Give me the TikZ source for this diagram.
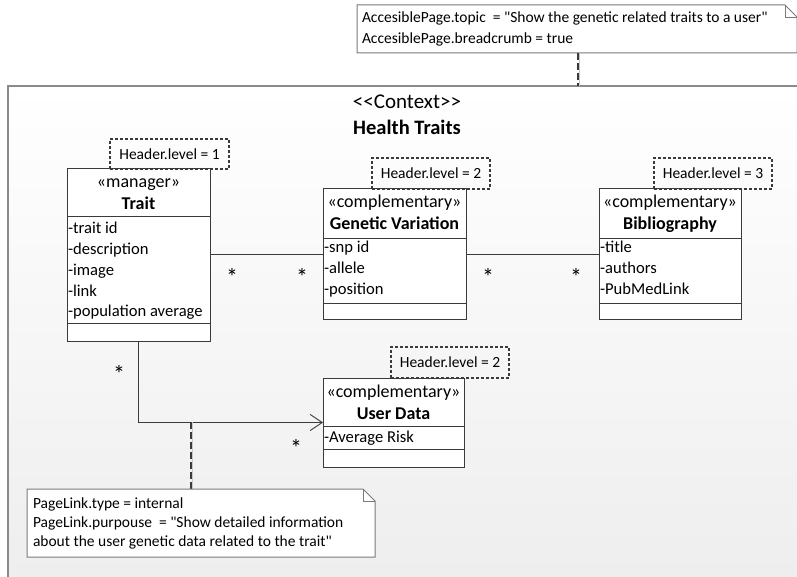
\documentclass[tikz,border=0pt]{standalone}
\usepackage{fontspec}
\setmainfont{Carlito}[Ligatures=TeXOff]
\usetikzlibrary{arrows.meta}
\definecolor{ink}{HTML}{3A3A3A}
\definecolor{framegray}{HTML}{8A8A8A}
\definecolor{notegray}{HTML}{7A7A7A}
\definecolor{tethershade}{HTML}{C8C8C8}
\definecolor{bgbottom}{HTML}{EDEDED}

\begin{document}
\begin{tikzpicture}[x=1pt,y=-1pt,
  every node/.style={font=\fontsize{15.5}{20}\selectfont, inner sep=0pt, outer sep=0pt},
  classbox/.style={draw=ink, fill=white, line width=1pt, anchor=north west},
  tagbox/.style={draw=ink, dash pattern=on 3pt off 2pt, line width=1.4pt, anchor=north west},
  rowline/.style={draw=ink, line width=0.8pt},
  txt/.style={anchor=base west},
  attr/.style={anchor=base west, font=\fontsize{16.6}{20}\selectfont},
  head/.style={anchor=base, font=\fontsize{18}{22}\selectfont},
  headbold/.style={anchor=base, font=\fontsize{18}{22}\selectfont\bfseries},
  ctxt/.style={anchor=base, font=\fontsize{21}{24}\selectfont},
  assoc/.style={draw=ink, line width=0.9pt},
  mult/.style={anchor=base, font=\fontsize{24}{24}\selectfont},
  notebox/.style={draw=notegray, fill=white, line width=1pt},
  tether/.style={draw=ink, line width=1.8pt, dash pattern=on 7pt off 3pt},
  tethershadow/.style={draw=tethershade, line width=1.6pt},
]
\useasboundingbox (0,0) rectangle (797,577);
\clip (0,0) rectangle (797,577);

% context frame
\node[anchor=north west, minimum width=820pt, minimum height=520pt,
      top color=white, bottom color=bgbottom] (ctx) at (8,86) {};
\draw[framegray, line width=1.6pt] (ctx.south west) -- (ctx.north west) -- (ctx.north east);
\node[ctxt] (ctxlabel) at (407,109) {<{}<Context>{}>};
\node[ctxt, font=\fontsize{20.5}{24}\selectfont\bfseries] (ctxname) at (407,135) {Health Traits};

% top note
\node[anchor=north west, minimum width=440pt, minimum height=48pt] (topnote) at (357,5) {};
\draw[notebox] (topnote.north west) -- ([xshift=-12pt]topnote.north east)
  -- ([yshift=-12pt]topnote.north east) -- (topnote.south east)
  -- (topnote.south west) -- cycle;
\draw[notegray, line width=0.8pt] ([xshift=-12pt]topnote.north east)
  -- ([xshift=-12pt,yshift=-12pt]topnote.north east) -- ([yshift=-12pt]topnote.north east);
\node[txt] (topnoteA) at (362,23) {AccesiblePage.topic \ = "Show the genetic related traits to a user"};
\node[txt] (topnoteB) at (362,44) {AccesiblePage.breadcrumb = true};
\coordinate (tnx) at (578,0);
\draw[tethershadow] ([xshift=1.5pt]topnote.south -| tnx) -- ([xshift=1.5pt]ctx.north -| tnx);
\draw[tether] (topnote.south -| tnx) -- (ctx.north -| tnx);

% Trait
\node[classbox, minimum width=143pt, minimum height=172pt] (trait) at (67,169) {};
\draw[rowline] (trait.west |- 0,216) -- (trait.east |- 0,216);
\draw[rowline] (trait.west |- 0,323) -- (trait.east |- 0,323);
\node[head] (traitst) at (trait.north |- 0,188) {«manager»};
\node[headbold] (traitnm) at (trait.north |- 0,210) {Trait};
\foreach \t [count=\i] in {-trait id,-description,-image,-link,-population average}
  \node[attr] (traitA\i) at (68,{234+20.7*(\i-1)}) {\t};
\node[tagbox, minimum width=119pt, minimum height=30pt] (trait-tag) at (110,139) {Header.level = 1};

% Genetic Variation
\node[classbox, minimum width=143pt, minimum height=130pt] (gv) at (323,189) {};
\draw[rowline] (gv.west |- 0,238) -- (gv.east |- 0,238);
\draw[rowline] (gv.west |- 0,303) -- (gv.east |- 0,303);
\node[head] (gvst) at (gv.north |- 0,208) {«complementary»};
\node[headbold] (gvnm) at (gv.north |- 0,230) {Genetic Variation};
\foreach \t [count=\i] in {-snp id,-allele,-position}
  \node[attr] (gvA\i) at (324,{253+20.7*(\i-1)}) {\t};
\node[tagbox, minimum width=118pt, minimum height=31pt] (gv-tag) at (372,158) {Header.level = 2};

% Bibliography
\node[classbox, minimum width=142pt, minimum height=130pt] (bib) at (599,189) {};
\draw[rowline] (bib.west |- 0,238) -- (bib.east |- 0,238);
\draw[rowline] (bib.west |- 0,303) -- (bib.east |- 0,303);
\node[head] (bibst) at (bib.north |- 0,208) {«complementary»};
\node[headbold] (bibnm) at (bib.north |- 0,230) {Bibliography};
\foreach \t [count=\i] in {-title,-authors,-PubMedLink}
  \node[attr] (bibA\i) at (600,{253+20.7*(\i-1)}) {\t};
\node[tagbox, minimum width=118pt, minimum height=31pt] (bib-tag) at (654,158) {Header.level = 3};

% User Data
\node[classbox, minimum width=141pt, minimum height=89pt] (ud) at (323,378) {};
\draw[rowline] (ud.west |- 0,426) -- (ud.east |- 0,426);
\draw[rowline] (ud.west |- 0,449) -- (ud.east |- 0,449);
\node[head] (udst) at (ud.north |- 0,397) {«complementary»};
\node[headbold] (udnm) at (ud.north |- 0,419) {User Data};
\node[attr] (udA1) at (324,442) {-Average Risk};
\node[tagbox, minimum width=118pt, minimum height=31pt] (ud-tag) at (391,347) {Header.level = 2};

% associations
\draw[assoc] (trait.east |- gv.west) -- (gv.west);
\draw[assoc] (gv.east) -- (bib.west);
\draw[assoc, -{Straight Barb[length=12pt,width=16pt,line width=0.9pt]}] (trait.south) |- (ud.west);
\node[mult] (m1) at (232,285) {*};
\node[mult] (m2) at (302,285) {*};
\node[mult] (m3) at (488,285) {*};
\node[mult] (m4) at (576,285) {*};
\node[mult] (m5) at (119,382) {*};
\node[mult] (m6) at (296,456) {*};

% bottom note
\node[anchor=north west, minimum width=348pt, minimum height=68pt] (botnote) at (27,489) {};
\coordinate (tb) at (191,422);
\draw[tethershadow] ([xshift=1.5pt]tb) -- ([xshift=1.5pt]botnote.north -| tb);
\draw[tether] (tb) -- (botnote.north -| tb);
\draw[notebox] (botnote.north west) -- ([xshift=-12pt]botnote.north east)
  -- ([yshift=-12pt]botnote.north east) -- (botnote.south east)
  -- (botnote.south west) -- cycle;
\draw[notegray, line width=0.8pt] ([xshift=-12pt]botnote.north east)
  -- ([xshift=-12pt,yshift=-12pt]botnote.north east) -- ([yshift=-12pt]botnote.north east);
\node[txt] (botnoteA) at (33,508) {PageLink.type = internal};
\node[txt] (botnoteB) at (33,527) {PageLink.purpouse \ = "Show detailed information};
\node[txt] (botnoteC) at (33,546) {about the user genetic data related to the trait"};
\end{tikzpicture}
\end{document}
